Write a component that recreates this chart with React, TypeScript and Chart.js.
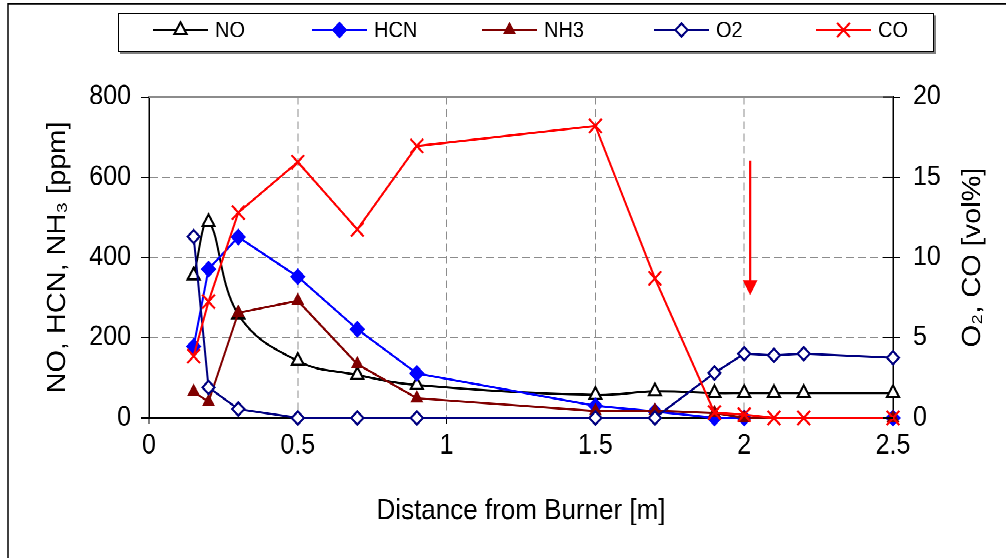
import React, { useEffect, useRef } from 'react';
import { Chart, registerables } from 'chart.js';

Chart.register(...registerables);

// ---------- data ----------
const NO_X = [0.15, 0.2, 0.3, 0.5, 0.7, 0.9, 1.5, 1.7, 1.9, 2.0, 2.1, 2.2, 2.5];
const NO_PPM = [355, 488, 258, 142, 107, 82, 57, 66, 62, 62, 62, 62, 62];

const HCN_X = [0.15, 0.2, 0.3, 0.5, 0.7, 0.9, 1.5, 1.7, 1.9, 2.0, 2.5];
const HCN_PPM = [178, 371, 451, 352, 221, 111, 30, 16, 0, 0, 0];

const NH3_X = [0.15, 0.2, 0.3, 0.5, 0.7, 0.9, 1.5, 1.7, 1.9, 2.0, 2.5];
const NH3_PPM = [65, 40, 262, 292, 134, 49, 17, 18, 12, 0, 0];

const O2_X = [0.15, 0.2, 0.3, 0.5, 0.7, 0.9, 1.5, 1.7, 1.9, 2.0, 2.1, 2.2, 2.5];
const O2_VOL = [11.3, 1.9, 0.55, 0, 0, 0, 0, 0, 2.8, 4.0, 3.9, 4.0, 3.75];

const CO_X = [0.15, 0.2, 0.3, 0.5, 0.7, 0.9, 1.5, 1.7, 1.9, 2.0, 2.1, 2.2, 2.5];
const CO_VOL = [3.85, 7.25, 12.8, 15.95, 11.75, 16.95, 18.2, 8.7, 0.33, 0.2, 0, 0, 0];

const SERIES_LABELS = ['NO', 'HCN', 'NH3', 'O2', 'CO'];

const X_TICKS = [0, 0.5, 1, 1.5, 2, 2.5];
const LEFT_TICKS = [0, 200, 400, 600, 800];
const RIGHT_TICKS = [0, 5, 10, 15, 20];

const X_TITLE = 'Distance from Burner [m]';
const LEFT_TITLE = 'NO, HCN, NH₃ [ppm]';
const RIGHT_TITLE = 'O₂, CO [vol%]';

// arrow annotation (x in m, y on right axis)
const ARROW_X = 2.02;
const ARROW_FROM = 16.05;
const ARROW_TO = 7.65;

// ---------- layout ----------
const W = 1006;
const H_REAL = 558;
const H = 502;
const SY = H_REAL / H;
const FONT = '"Liberation Sans", Arial, Helvetica, sans-serif';
const GRID = '#8c8c8c';
const CLEAR = 'rgba(0,0,0,0)';

const pts = (xs: number[], ys: number[]) => xs.map((x, i) => ({ x, y: ys[i] }));

function drawMarker(ctx: CanvasRenderingContext2D, style: string, x: number, y: number, r: number,
  fill: string, stroke: string, lw: number) {
  ctx.save();
  ctx.lineWidth = lw;
  ctx.strokeStyle = stroke;
  ctx.fillStyle = fill;
  ctx.setLineDash([]);
  ctx.beginPath();
  if (style === 'triangle') {
    for (let k = 0; k < 3; k++) {
      const a = (k * 2 * Math.PI) / 3;
      const px = x + Math.sin(a) * r;
      const py = y - Math.cos(a) * r;
      if (k === 0) ctx.moveTo(px, py); else ctx.lineTo(px, py);
    }
    ctx.closePath();
    ctx.fill();
    ctx.stroke();
  } else if (style === 'rectRot') {
    ctx.moveTo(x - r, y);
    ctx.lineTo(x, y - r);
    ctx.lineTo(x + r, y);
    ctx.lineTo(x, y + r);
    ctx.closePath();
    ctx.fill();
    ctx.stroke();
  } else {
    const d = r * Math.SQRT1_2;
    ctx.moveTo(x - d, y - d);
    ctx.lineTo(x + d, y + d);
    ctx.moveTo(x + d, y - d);
    ctx.lineTo(x - d, y + d);
    ctx.stroke();
  }
  ctx.restore();
}

const LEGEND_BOX = { left: 118, right: 934, top: 11.7, bottom: 46.8 };
const LEGEND_LINE_X = [153, 312, 482, 654, 816];
const LEGEND_LINE_LEN = 55;
const LEGEND_Y = 27;

const overlay = {
  id: 'overlay',
  afterDraw(chart: any) {
    const { ctx, chartArea: ca, scales } = chart;
    ctx.save();
    ctx.setLineDash([]);

    // outer frame (top + left)
    ctx.strokeStyle = '#000';
    ctx.lineWidth = 1.5;
    ctx.beginPath();
    ctx.moveTo(8, H);
    ctx.lineTo(8, 3.6);
    ctx.lineTo(W, 3.6);
    ctx.stroke();

    // plot area top border
    ctx.strokeStyle = GRID;
    ctx.lineWidth = 2;
    ctx.beginPath();
    ctx.moveTo(ca.left, ca.top);
    ctx.lineTo(ca.right, ca.top);
    ctx.stroke();

    // right axis inner ticks
    const y1 = scales.y1;
    ctx.strokeStyle = '#000';
    ctx.lineWidth = 1;
    y1.ticks.forEach((t: any) => {
      const py = y1.getPixelForValue(t.value);
      ctx.beginPath();
      ctx.moveTo(ca.right - 10, py);
      ctx.lineTo(ca.right, py);
      ctx.stroke();
    });

    // arrow
    const ax = scales.x.getPixelForValue(ARROW_X);
    const ay0 = y1.getPixelForValue(ARROW_FROM);
    const ay1 = y1.getPixelForValue(ARROW_TO);
    const head = 13.5;
    ctx.strokeStyle = '#ff0000';
    ctx.fillStyle = '#ff0000';
    ctx.lineWidth = 2.2;
    ctx.beginPath();
    ctx.moveTo(ax, ay0);
    ctx.lineTo(ax, ay1 - head + 1);
    ctx.stroke();
    ctx.beginPath();
    ctx.moveTo(ax - 7.3, ay1 - head);
    ctx.lineTo(ax + 7.3, ay1 - head);
    ctx.lineTo(ax, ay1);
    ctx.closePath();
    ctx.fill();

    // right title (reads bottom-to-top)
    ctx.save();
    ctx.translate(973, (ca.top + ca.bottom) / 2);
    ctx.rotate(-Math.PI / 2);
    ctx.fillStyle = '#000';
    ctx.font = `26px ${FONT}`;
    ctx.textAlign = 'center';
    ctx.textBaseline = 'middle';
    ctx.fillText(RIGHT_TITLE, 0, 0);
    ctx.restore();

    // legend box with shadow
    const b = LEGEND_BOX;
    ctx.fillStyle = '#808080';
    ctx.fillRect(b.left + 2, b.top + 2, b.right - b.left, b.bottom - b.top);
    ctx.fillStyle = '#fff';
    ctx.fillRect(b.left, b.top, b.right - b.left, b.bottom - b.top);
    ctx.strokeStyle = '#000';
    ctx.lineWidth = 1;
    ctx.strokeRect(b.left + 0.5, b.top + 0.5, b.right - b.left - 1, b.bottom - b.top - 1);

    chart.data.datasets.forEach((ds: any, i: number) => {
      const lx = LEGEND_LINE_X[i];
      ctx.strokeStyle = ds.borderColor;
      ctx.lineWidth = 2;
      ctx.beginPath();
      ctx.moveTo(lx, LEGEND_Y);
      ctx.lineTo(lx + LEGEND_LINE_LEN, LEGEND_Y);
      ctx.stroke();
      drawMarker(ctx, ds.pointStyle, lx + LEGEND_LINE_LEN / 2, LEGEND_Y, ds.pointRadius,
        ds.pointBackgroundColor, ds.pointBorderColor || ds.borderColor, ds.pointBorderWidth);
      ctx.fillStyle = '#000';
      ctx.font = `20px ${FONT}`;
      ctx.textAlign = 'left';
      ctx.textBaseline = 'middle';
      ctx.fillText(ds.label, lx + LEGEND_LINE_LEN + 7, LEGEND_Y + 1);
    });

    ctx.restore();
  },
};

export default function App() {
  const ref = useRef<HTMLCanvasElement | null>(null);

  useEffect(() => {
    if (!ref.current) return;
    const common = { clip: false as any, pointHoverRadius: undefined as any };
    const chart = new Chart(ref.current, {
      type: 'line',
      data: {
        datasets: [
          {
            label: SERIES_LABELS[0], data: pts(NO_X, NO_PPM), yAxisID: 'y', order: 5,
            borderColor: '#000000', borderWidth: 2, tension: 0.4,
            pointStyle: 'triangle', pointRadius: 7, pointBackgroundColor: '#ffffff',
            pointBorderColor: '#000000', pointBorderWidth: 2, clip: false,
          },
          {
            label: SERIES_LABELS[1], data: pts(HCN_X, HCN_PPM), yAxisID: 'y', order: 4,
            borderColor: '#0000ff', borderWidth: 2, tension: 0,
            pointStyle: 'rectRot', pointRadius: 7, pointBackgroundColor: '#0000ff',
            pointBorderColor: '#0000ff', pointBorderWidth: 1, clip: false,
          },
          {
            label: SERIES_LABELS[2], data: pts(NH3_X, NH3_PPM), yAxisID: 'y', order: 3,
            borderColor: '#800000', borderWidth: 2, tension: 0,
            pointStyle: 'triangle', pointRadius: 6.5, pointBackgroundColor: '#800000',
            pointBorderColor: '#800000', pointBorderWidth: 1, clip: false,
          },
          {
            label: SERIES_LABELS[3], data: pts(O2_X, O2_VOL), yAxisID: 'y1', order: 2,
            borderColor: '#000080', borderWidth: 2, tension: 0,
            pointStyle: 'rectRot', pointRadius: 6, pointBackgroundColor: '#ffffff',
            pointBorderColor: '#000080', pointBorderWidth: 2, clip: false,
          },
          {
            label: SERIES_LABELS[4], data: pts(CO_X, CO_VOL), yAxisID: 'y1', order: 1,
            borderColor: '#ff0000', borderWidth: 2, tension: 0,
            pointStyle: 'crossRot', pointRadius: 9, pointBackgroundColor: '#ff0000',
            pointBorderColor: '#ff0000', pointBorderWidth: 2, clip: false,
          },
        ] as any,
      },
      options: {
        animation: false,
        responsive: false,
        devicePixelRatio: 2,
        events: [],
        layout: { padding: { top: 87.3, left: 0, right: 0, bottom: 0 } },
        plugins: { legend: { display: false }, tooltip: { enabled: false } },
        scales: {
          x: {
            type: 'linear', position: 'bottom',
            min: X_TICKS[0], max: X_TICKS[X_TICKS.length - 1],
            afterBuildTicks: (s: any) => { s.ticks = X_TICKS.map((v) => ({ value: v })); },
            ticks: {
              color: '#000', font: { family: FONT, size: 25 }, padding: 5, maxRotation: 0,
              autoSkip: false, callback: (v: any) => String(v),
            },
            grid: {
              color: (c: any) => (c.tick && (c.tick.value === 0 || c.tick.value === 2.5) ? CLEAR : GRID),
              lineWidth: 1, tickLength: 5, tickColor: '#000', tickWidth: 1, tickBorderDash: [],
            },
            border: { display: true, color: '#000', width: 1.5, dash: [7, 4] },
            title: {
              display: true, text: X_TITLE, color: '#000',
              font: { family: FONT, size: 26 }, padding: { top: 0, bottom: 26.4 },
            },
            afterFit: (s: any) => { s.height = H - 376; },
          },
          y: {
            type: 'linear', position: 'left',
            min: LEFT_TICKS[0], max: LEFT_TICKS[LEFT_TICKS.length - 1],
            afterBuildTicks: (s: any) => { s.ticks = LEFT_TICKS.map((v) => ({ value: v })); },
            ticks: { color: '#000', font: { family: FONT, size: 25 }, padding: 10 },
            grid: {
              color: (c: any) => (c.tick && (c.tick.value === 0 || c.tick.value === 800) ? CLEAR : GRID),
              lineWidth: 1, tickLength: 8, tickColor: '#000', tickWidth: 1, tickBorderDash: [],
            },
            border: { display: true, color: '#000', width: 1.5, dash: [8, 4] },
            title: {
              display: true, text: LEFT_TITLE, color: '#000',
              font: { family: FONT, size: 26 }, padding: { top: 42.4, bottom: 0 },
            },
            afterFit: (s: any) => { s.width = 149; },
          },
          y1: {
            type: 'linear', position: 'right',
            min: RIGHT_TICKS[0], max: RIGHT_TICKS[RIGHT_TICKS.length - 1],
            afterBuildTicks: (s: any) => { s.ticks = RIGHT_TICKS.map((v) => ({ value: v })); },
            ticks: { color: '#000', font: { family: FONT, size: 25 }, padding: 13 },
            grid: {
              drawOnChartArea: false, color: '#000', lineWidth: 1, tickLength: 7,
              tickColor: '#000', tickWidth: 1, tickBorderDash: [],
            },
            border: { display: true, color: '#000', width: 1.5 },
            title: { display: false },
            afterFit: (s: any) => { s.width = W - 893; },
          },
        },
      } as any,
      plugins: [overlay],
    });
    return () => chart.destroy();
  }, []);

  return (
    <div
      style={{
        position: 'fixed', left: 0, top: 0, width: W, height: H, background: '#fff',
        transform: `scaleY(${SY})`, transformOrigin: '0 0',
      }}
    >
      <canvas ref={ref} width={W} height={H} style={{ display: 'block', width: `${W}px`, height: `${H}px` }} />
    </div>
  );
}
